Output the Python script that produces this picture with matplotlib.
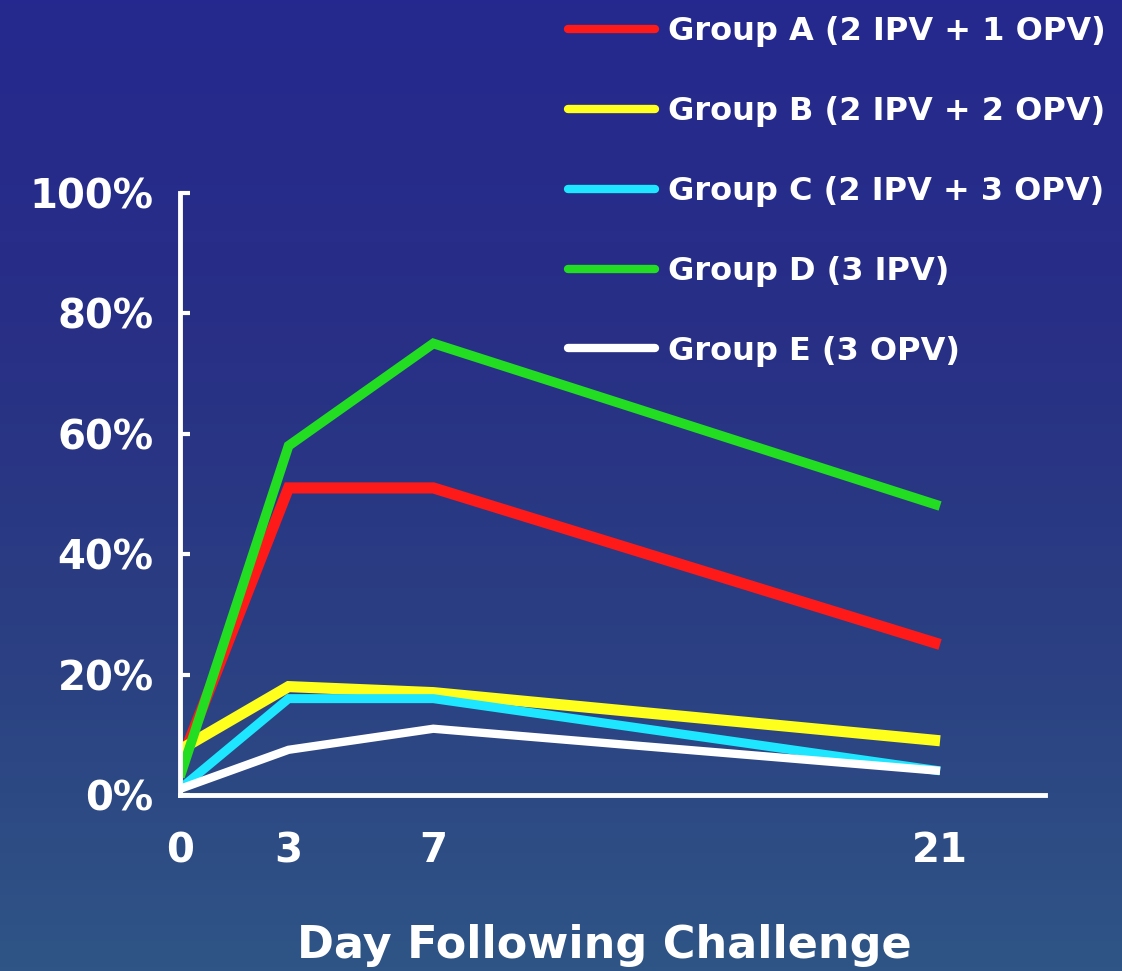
import numpy as np
import matplotlib.pyplot as plt
from matplotlib.colors import LinearSegmentedColormap

plt.rcParams['font.family'] = ['DejaVu Sans']
plt.rcParams['font.weight'] = 'bold'

# Données
days = [0, 3, 7, 21]
group_a = [5, 51, 51, 25]
group_b = [7.5, 18, 17, 9]
group_c = [1, 16, 16, 4]
group_d = [3, 58, 75, 48]
group_e = [1, 7.5, 11, 4]

labels = ['Group A (2 IPV + 1 OPV)', 'Group B (2 IPV + 2 OPV)',
          'Group C (2 IPV + 3 OPV)', 'Group D (3 IPV)', 'Group E (3 OPV)']
colors = ['#ff1a1a', '#ffff1e', '#1ee6ff', '#22dd22', '#ffffff']
widths = [8, 8, 6.5, 7, 6]

y_ticks = [0, 20, 40, 60, 80, 100]
y_labels = ['0%', '20%', '40%', '60%', '80%', '100%']

fig = plt.figure(figsize=(11.22, 9.71), dpi=100)

# fond dégradé bleu
bg = fig.add_axes([0, 0, 1, 1], zorder=-10)
cmap = LinearSegmentedColormap.from_list('fond', ['#25288e', '#282f86', '#2b3f82', '#2f5586'])
grad = np.linspace(0, 1, 256).reshape(-1, 1)
bg.imshow(grad, aspect='auto', cmap=cmap, extent=[0, 1, 0, 1], origin='upper')
bg.axis('off')

ax = fig.add_axes([0.1604, 0.1813, 0.771, 0.62])
ax.patch.set_alpha(0)

series = [group_a, group_b, group_c, group_d, group_e]
for vals, lab, col, lw in zip(series, labels, colors, widths):
    ax.plot(days, vals, color=col, lw=lw, label=lab, solid_joinstyle='miter',
            solid_capstyle='butt')

ax.set_xlim(0, 23.9)
ax.set_ylim(0, 100)
ax.set_xticks(days)
ax.set_xticklabels([str(d) for d in days])
ax.set_yticks(y_ticks)
ax.set_yticklabels(y_labels)

for side in ['top', 'right']:
    ax.spines[side].set_visible(False)
for side in ['left', 'bottom']:
    ax.spines[side].set_color('white')
    ax.spines[side].set_linewidth(3.5)
    ax.spines[side].set_capstyle('projecting')

ax.tick_params(axis='y', direction='in', length=7, width=3, color='white',
               labelcolor='white', labelsize=29, pad=19)
ax.tick_params(axis='x', length=0, labelcolor='white', labelsize=29, pad=26)

ax.set_xlabel('Day Following Challenge', color='white', fontsize=32,
              fontweight='bold')
ax.xaxis.set_label_coords(0.49, -0.215)

leg = fig.legend(loc='upper left', bbox_to_anchor=(0.4948, 0.9965), frameon=False,
                 fontsize=23, labelspacing=1.53, handlelength=2.73,
                 handletextpad=0.41, borderaxespad=0)
for t in leg.get_texts():
    t.set_color('white')
for h in leg.legend_handles:
    h.set_linewidth(6)
    h.set_solid_capstyle('round')

fig.savefig('out.png', dpi=100)
